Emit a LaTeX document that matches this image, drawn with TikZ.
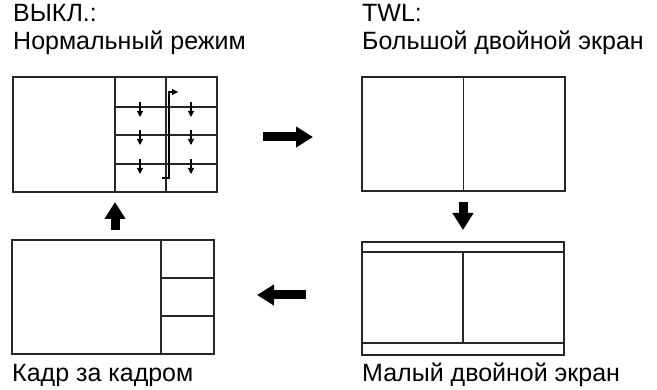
\documentclass[tikz,border=0pt]{standalone}
\usepackage{fontspec}
\setmainfont{Liberation Sans}
\usetikzlibrary{arrows.meta}
\begin{document}
\begin{tikzpicture}[x=1pt,y=-1pt,
  panel/.style={draw=black!85, line width=1.1pt, anchor=north west, inner sep=0pt, outer sep=0pt},
  inner/.style={draw=black!85, line width=1.1pt},
  smallarrow/.style={draw=black, line width=1.1pt, -{Triangle[length=6pt,width=6pt]}},
  bigarrow/.style={draw=black, line width=9pt, -{Triangle[length=17pt,width=20pt]}},
  label/.style={anchor=base west, inner sep=0pt, font=\fontsize{25}{28}\selectfont, align=left}]
\useasboundingbox (0,0) rectangle (657,390);
% labels
\node[label] (la1) at (13,22) {ВЫКЛ.:};
\node[label] (la2) at (13,50) {Нормальный режим};
\node[label] (lb1) at (362,22) {TWL:};
\node[label] (lb2) at (362,50) {Большой двойной экран};
\node[label] (ld) at (12,382) {Кадр за кадром};
\node[label] (lc) at (362,382) {Малый двойной экран};
% panel A
\node[panel, minimum width=204pt, minimum height=115pt] (A) at (13,77) {};
\draw[inner] (115,77) -- (115,192);
\draw[inner] (166,77) -- (166,192);
\foreach \y in {107,135,164} {
  \draw[inner] (115,\y) -- (217,\y);
  \draw[smallarrow] (140,\y-5) -- (140,\y+10);
  \draw[smallarrow] (191,\y-5) -- (191,\y+10);
}
\draw[draw=black, line width=1.1pt, -{Triangle[length=6pt,width=6pt]}] (162,178) -- (169,178) -- (169,92) -- (178,92);
% panel B
\node[panel, minimum width=203pt, minimum height=114pt] (B) at (362,77) {};
\draw[inner] (B.north) -- (B.south);
% panel C
\node[panel, minimum width=202pt, minimum height=113pt] (C) at (362,242) {};
\draw[inner] (362,252) -- (564,252);
\draw[inner] (362,343) -- (564,343);
\draw[inner] (463,252) -- (463,343);
% panel D
\node[panel, minimum width=202pt, minimum height=114pt] (D) at (12,240) {};
\draw[inner] (161,240) -- (161,354);
\draw[inner] (161,278) -- (214,278);
\draw[inner] (161,316) -- (214,316);
% big arrows
\coordinate (r1) at (263,137); \coordinate (r2) at (313,137);
\coordinate (d1) at (463,202); \coordinate (d2) at (463,230);
\coordinate (l1) at (306,295); \coordinate (l2) at (257,295);
\coordinate (u1) at (115,230); \coordinate (u2) at (115,202);
\draw[bigarrow] (r1) -- (r2);
\draw[bigarrow] (d1) -- (d2);
\draw[bigarrow] (l1) -- (l2);
\draw[bigarrow] (u1) -- (u2);
\end{tikzpicture}
\end{document}
